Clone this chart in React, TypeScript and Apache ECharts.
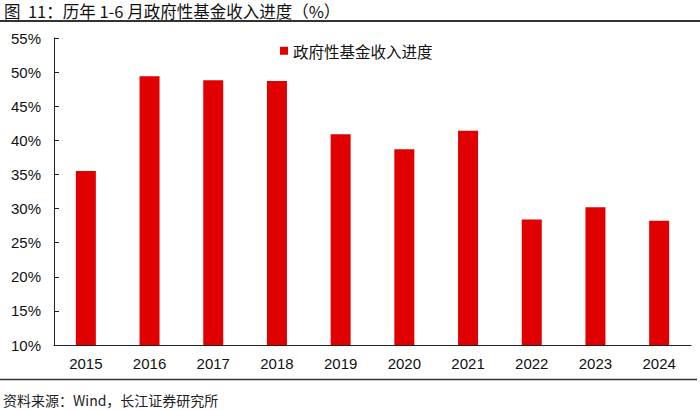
import React, { useEffect, useRef } from "react";
import * as echarts from "echarts";

const years = ["2015", "2016", "2017", "2018", "2019", "2020", "2021", "2022", "2023", "2024"];
const progress = [35.5, 49.4, 48.8, 48.7, 40.9, 38.7, 41.4, 28.4, 30.2, 28.2];
const seriesName = "政府性基金收入进度";
const titleText = "图  11：历年 1-6 月政府性基金收入进度（%）";
const sourceText = "资料来源：Wind，长江证券研究所";

const FONT = "'Liberation Sans', 'Noto Sans CJK SC', sans-serif";
const CJK = "'Noto Sans CJK SC', 'Liberation Sans', sans-serif";

export default function App() {
  const ref = useRef<HTMLDivElement>(null);
  useEffect(() => {
    if (!ref.current) return;
    const chart = echarts.init(ref.current, null, { renderer: "svg" });
    chart.setOption({
      animation: false,
      backgroundColor: "#ffffff",
      grid: { left: 54, right: 9, top: 38, bottom: 65, containLabel: false },
      legend: {
        data: [seriesName],
        left: 275,
        top: 38,
        icon: "rect",
        itemWidth: 8,
        itemHeight: 8,
        itemGap: 5,
        textStyle: { fontSize: 15.5, color: "#111", fontFamily: CJK },
      },
      xAxis: {
        type: "category",
        data: years,
        axisLine: { lineStyle: { color: "#222", width: 1 } },
        axisTick: { inside: true, length: 5, lineStyle: { color: "#222" } },
        axisLabel: { fontSize: 15, color: "#111", fontFamily: FONT, margin: 11 },
      },
      yAxis: {
        type: "value",
        min: 10,
        max: 55,
        interval: 5,
        splitLine: { show: false },
        axisLine: { show: true, lineStyle: { color: "#222", width: 1 } },
        axisTick: { show: true, inside: true, length: 5, lineStyle: { color: "#222" } },
        axisLabel: { fontSize: 15, color: "#111", fontFamily: FONT, margin: 13, formatter: "{value}%" },
      },
      series: [
        {
          name: seriesName,
          type: "bar",
          data: progress,
          barWidth: 20,
          itemStyle: { color: "#E00000" },
        },
      ],
      graphic: [
        {
          type: "text",
          x: 4,
          y: 11,
          style: {
            text: titleText,
            fontSize: 16.5,
            fill: "#111",
            fontFamily: CJK,
            verticalAlign: "middle",
            align: "left",
          },
        },
        {
          type: "line",
          shape: { x1: 0, y1: 21, x2: 700, y2: 21 },
          style: { stroke: "#333", lineWidth: 2 },
        },
        {
          type: "line",
          shape: { x1: 0, y1: 379.5, x2: 697, y2: 379.5 },
          style: { stroke: "#333", lineWidth: 1.5 },
        },
        {
          type: "text",
          x: 3,
          y: 400,
          style: {
            text: sourceText,
            fontSize: 14,
            fill: "#222",
            fontFamily: CJK,
            verticalAlign: "middle",
            align: "left",
          },
        },
      ],
    });
    return () => chart.dispose();
  }, []);
  return <div ref={ref} style={{ width: 700, height: 410, position: "absolute", left: 0, top: 0 }} />;
}
